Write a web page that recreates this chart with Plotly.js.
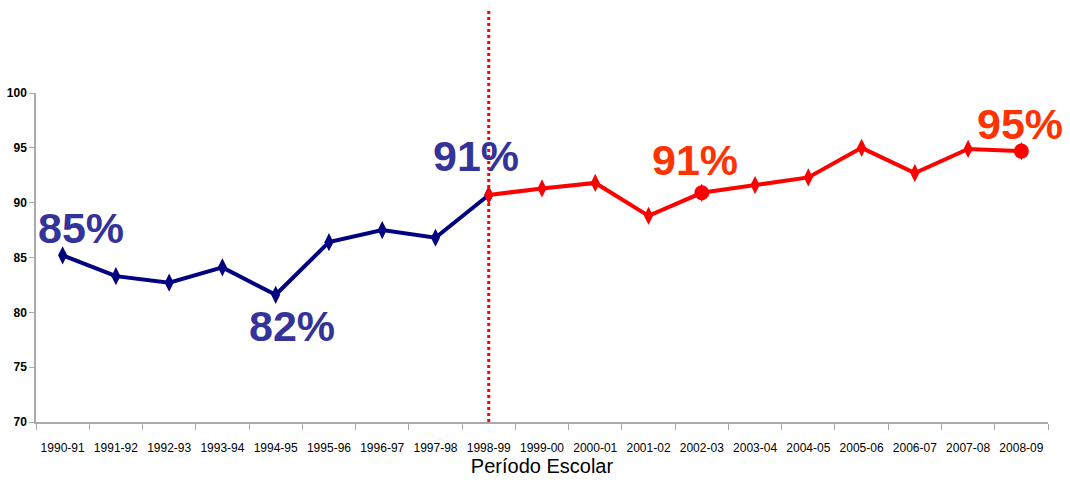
<!DOCTYPE html>
<html><head><meta charset="utf-8">
<script src="https://cdn.plot.ly/plotly-3.0.1.min.js"></script>
<style>html,body{margin:0;padding:0;background:#fff;}</style>
</head><body>
<div id="chart" style="width:1070px;height:485px;"></div>
<script>
const periods = ["1990-91","1991-92","1992-93","1993-94","1994-95","1995-96","1996-97","1997-98","1998-99","1999-00","2000-01","2001-02","2002-03","2003-04","2004-05","2005-06","2006-07","2007-08","2008-09"];
const bluePeriods = periods.slice(0, 9);
const blueValues = [85.2, 83.3, 82.7, 84.1, 81.6, 86.4, 87.5, 86.8, 90.7];
const redPeriods = periods.slice(8);
const redValues = [90.7, 91.3, 91.8, 88.8, 90.9, 91.6, 92.3, 95.0, 92.7, 94.9, 94.7];
const highlightPeriods = ["2002-03", "2008-09"];
const highlightValues = [90.9, 94.7];
const labels = [
  {x: "1990-91", y: 85.2, text: "85%", color: "#333399", dx: 18, dy: -27},
  {x: "1994-95", y: 81.6, text: "82%", color: "#333399", dx: 16, dy: 31},
  {x: "1998-99", y: 90.7, text: "91%", color: "#333399", dx: -13, dy: -39},
  {x: "2002-03", y: 90.9, text: "91%", color: "#FF3300", dx: -7, dy: -33},
  {x: "2008-09", y: 94.7, text: "95%", color: "#FF3300", dx: -1, dy: -27}
];
const narrow = "Liberation Sans Narrow, Arial Narrow, Liberation Sans, Arial, sans-serif";

const traces = [
  {x: bluePeriods, y: blueValues, type: "scatter", mode: "lines+markers",
   line: {color: "#000080", width: 4},
   marker: {symbol: "diamond-tall", size: 13, color: "#000080"}},
  {x: redPeriods, y: redValues, type: "scatter", mode: "lines+markers",
   line: {color: "#FF0000", width: 4},
   marker: {symbol: "diamond-tall", size: 13, color: "#FF0000"}},
  {x: highlightPeriods, y: highlightValues, type: "scatter", mode: "markers",
   marker: {symbol: "circle", size: 15, color: "#FF0000"}}
];

const layout = {
  width: 1070, height: 485,
  margin: {l: 36, r: 22, t: 93, b: 63},
  paper_bgcolor: "#fff", plot_bgcolor: "#fff",
  showlegend: false,
  xaxis: {
    type: "category", categoryorder: "array", categoryarray: periods,
    range: [-0.5, periods.length - 0.5],
    showgrid: false, zeroline: false,
    showline: true, linecolor: "#aaaaaa", linewidth: 1.5,
    ticks: "outside", tickson: "boundaries", ticklen: 6, tickcolor: "#aaaaaa",
    tickangle: 0, ticklabelstandoff: 14,
    tickfont: {family: narrow, size: 12, color: "#000"},
    title: {text: "Período Escolar", font: {family: "Liberation Sans, Arial, sans-serif", size: 20, color: "#000"}, standoff: 4}
  },
  yaxis: {
    range: [70, 100], dtick: 5,
    showgrid: false, zeroline: false,
    showline: true, linecolor: "#aaaaaa", linewidth: 1.5,
    ticks: "outside", ticklen: 5, tickcolor: "#aaaaaa",
    tickfont: {family: narrow, size: 12, color: "#000", weight: "bold"}
  },
  shapes: [{
    type: "line", xref: "x", yref: "paper",
    x0: "1998-99", x1: "1998-99", y0: 0, y1: 1.258,
    line: {color: "#FF0000", width: 3, dash: "dot"}
  }],
  annotations: labels.map(l => ({
    x: l.x, y: l.y, xref: "x", yref: "y", text: l.text, showarrow: false,
    xshift: l.dx, yshift: -l.dy,
    font: {family: "Liberation Sans, Arial, sans-serif", size: 43, color: l.color, weight: "bold"}
  }))
};

Plotly.newPlot("chart", traces, layout, {displayModeBar: false});
</script>
</body></html>
